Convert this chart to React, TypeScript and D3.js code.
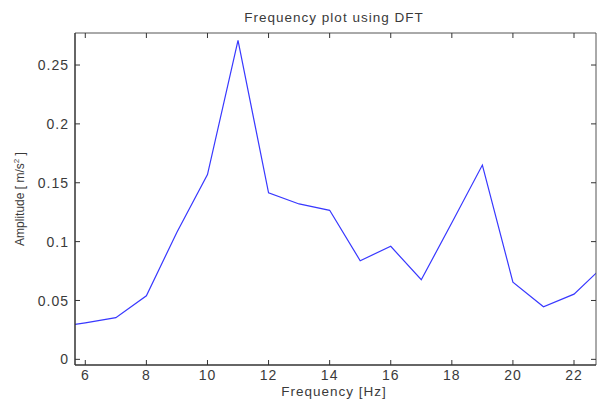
import { useMemo } from "react";
import * as d3 from "d3";

// DFT amplitude spectrum
const FREQS = [5, 6, 7, 8, 9, 10, 11, 12, 13, 14, 15, 16, 17, 18, 19, 20, 21, 22, 23];
const AMPS = [0.027, 0.031, 0.0354, 0.054, 0.108, 0.157, 0.271, 0.1414, 0.132, 0.1266, 0.0838, 0.096, 0.0676, 0.116, 0.165, 0.0656, 0.0446, 0.0554, 0.08];

const X_TICKS = [6, 8, 10, 12, 14, 16, 18, 20, 22];
const Y_TICKS = [0, 0.05, 0.1, 0.15, 0.2, 0.25];

const W = 598;
const H = 401;
const M = { left: 75, right: 2, top: 33, bottom: 36 };
const FONT = "'Liberation Sans', Arial, Helvetica, sans-serif";
const TEXT = "#3a3a3a";

export default function App() {
  const x = useMemo(() => d3.scaleLinear().domain([5.663, 22.72]).range([M.left, W - M.right]), []);
  const y = useMemo(() => d3.scaleLinear().domain([-0.0048, 0.2772]).range([H - M.bottom, M.top]), []);

  const pts = FREQS.map((f, i) => [f, AMPS[i]] as [number, number]);
  const line = d3.line<[number, number]>().x((d) => x(d[0])).y((d) => y(d[1]));

  const x0 = M.left, x1 = W - M.right, y0 = H - M.bottom, y1 = M.top;
  const tk = 5;

  return (
    <div style={{ position: "fixed", left: 0, top: 0, width: W, height: H, background: "#fff" }}>
      <svg width={W} height={H} style={{ display: "block" }} fontFamily={FONT}>
        <defs>
          <clipPath id="plot">
            <rect x={x0} y={y1} width={x1 - x0} height={y0 - y1} />
          </clipPath>
        </defs>
        <rect x={0} y={0} width={W} height={H} fill="#fff" />

        <path d={line(pts) ?? ""} fill="none" stroke="#3838ff" strokeWidth={1.2} clipPath="url(#plot)" />

        {/* frame */}
        <line x1={x0} x2={x1} y1={y1} y2={y1} stroke="#555" strokeWidth={1} />
        <line x1={x1} x2={x1} y1={y1} y2={y0} stroke="#555" strokeWidth={1} />
        <line x1={x0} x2={x1} y1={y0} y2={y0} stroke="#333" strokeWidth={1.5} />
        <line x1={x0} x2={x0} y1={y1} y2={y0} stroke="#333" strokeWidth={1.5} />

        {X_TICKS.map((t) => (
          <g key={"x" + t}>
            <line x1={x(t)} x2={x(t)} y1={y0} y2={y0 - tk} stroke="#333" />
            <line x1={x(t)} x2={x(t)} y1={y1} y2={y1 + tk} stroke="#333" />
            <text x={x(t)} y={y0 + 15} textAnchor="middle" fontSize={14} letterSpacing={1} fill={TEXT}>{t}</text>
          </g>
        ))}

        {Y_TICKS.map((t) => (
          <g key={"y" + t}>
            <line x1={x0} x2={x0 + tk} y1={y(t)} y2={y(t)} stroke="#333" />
            <line x1={x1} x2={x1 - tk} y1={y(t)} y2={y(t)} stroke="#333" />
            <text x={x0 - 6} y={y(t)} dy="0.36em" textAnchor="end" fontSize={14} letterSpacing={1} fill={TEXT}>{String(t)}</text>
          </g>
        ))}

        <text x={334} y={22} textAnchor="middle" fontSize={13.5} letterSpacing={1} fill={TEXT}>Frequency plot using DFT</text>
        <text x={334} y={396} textAnchor="middle" fontSize={13.5} letterSpacing={1} fill={TEXT}>Frequency [Hz]</text>
        <text transform="translate(24,199) rotate(-90)" textAnchor="middle" fontSize={12} fill={TEXT}>
          Amplitude [ m/s<tspan dy="-5" fontSize={8}>2</tspan><tspan dy="5"> ]</tspan>
        </text>
      </svg>
    </div>
  );
}
